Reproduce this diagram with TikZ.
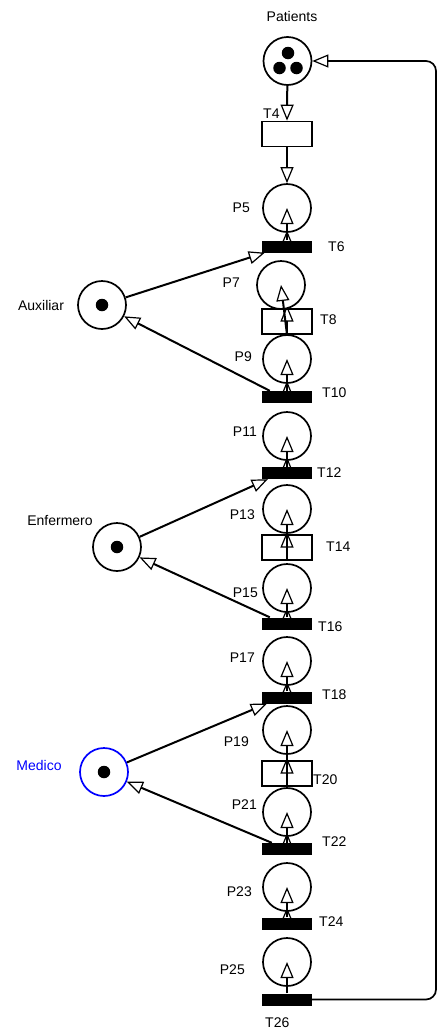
\documentclass[tikz,border=0pt]{standalone}
\usepackage{fontspec}
\setmainfont{Liberation Sans}
\usetikzlibrary{arrows.meta,positioning,calc}
\definecolor{medicoblue}{HTML}{0000FF}
\tikzset{
  place/.style={circle, draw=black, line width=1.7pt, fill=white,
    minimum size=48pt, inner sep=0pt},
  trans/.style={rectangle, draw=black, line width=1.7pt, fill=white,
    minimum width=50pt, minimum height=25pt, inner sep=0pt},
  btrans/.style={rectangle, fill=black, minimum width=50pt,
    minimum height=12pt, inner sep=0pt},
  token/.style={circle, fill=black, minimum size=12.5pt, inner sep=0pt},
  arc/.style={-{Triangle[open, length=16pt, width=13pt, line width=1.2pt]},
    line width=2pt},
  lbl/.style={font=\fontsize{14}{16}\selectfont, inner sep=0pt}
}
% stub of the arc that sits behind the place above a transition
\newcommand{\backtip}[1]{
  \draw[arc] (#1.south) -- ($(#1.center)+(0,-16)$);
}
% arc from a transition up to the centre of the place above it
\newcommand{\uparc}[2]{
  \draw[arc] (#1) -- (#2.center);
}
\begin{document}
\begin{tikzpicture}[x=1pt, y=-1pt]
\useasboundingbox (0,0) rectangle (438,1031);
% transitions
\node[trans] (T4) at (287,134) {};
\node[btrans] (T6) at (287,246.5) {};
\node[trans] (T8) at (287,321.5) {};
\node[btrans] (T10) at (287,397) {};
\node[btrans] (T12) at (287,473) {};
\node[trans] (T14) at (287,547.5) {};
\node[btrans] (T16) at (287,623.5) {};
\node[btrans] (T18) at (287,697.5) {};
\node[trans] (T20) at (287,773.5) {};
\node[btrans] (T22) at (287,849) {};
\node[btrans] (T24) at (287,923.5) {};
\node[btrans] (T26) at (287,999.5) {};
\backtip{T6}
\backtip{T8}
\backtip{T10}
\backtip{T12}
\backtip{T14}
\backtip{T16}
\backtip{T18}
\backtip{T20}
\backtip{T22}
\backtip{T24}
% places
\node[place] (pat) at (287.5,61) {};
\node[token] (pat1) at (288,53) {};
\node[token] (pat2) at (279.5,68) {};
\node[token] (pat3) at (296.5,68) {};
\node[place] (P5) at (287,208) {};
\node[place] (P7) at (281,285) {};
\node[place] (P9) at (287,359) {};
\node[place] (P11) at (287,436) {};
\node[place] (P13) at (287,509) {};
\node[place] (P15) at (287,588) {};
\node[place] (P17) at (287,661) {};
\node[place] (P19) at (287,730) {};
\node[place] (P21) at (287,812) {};
\node[place] (P23) at (287,887) {};
\node[place] (P25) at (287,962) {};
\node[place] (aux) at (102,305) {};
\node[token] (auxtok) at (aux) {};
\node[place] (enf) at (117,547) {};
\node[token] (enftok) at (enf) {};
\node[place, draw=medicoblue] (med) at (104,772) {};
\node[token] (medtok) at (med) {};
% labels
\node[lbl] (lpat) at (292,16) {Patients};
\node[lbl] (laux) at (41,305) {Auxiliar};
\node[lbl] (lenf) at (60,520) {Enfermero};
\node[lbl, text=medicoblue] (lmed) at (39,765) {Medico};
\node[lbl, anchor=east] (lP5) at (250,208) {P5};
\node[lbl, anchor=east] (lP7) at (240,283) {P7};
\node[lbl, anchor=east] (lP9) at (252,357) {P9};
\node[lbl, anchor=east] (lP11) at (257,432) {P11};
\node[lbl, anchor=east] (lP13) at (255,515) {P13};
\node[lbl, anchor=east] (lP15) at (258,593) {P15};
\node[lbl, anchor=east] (lP17) at (255,658) {P17};
\node[lbl, anchor=east] (lP19) at (249,742) {P19};
\node[lbl, anchor=east] (lP21) at (257,805) {P21};
\node[lbl, anchor=east] (lP23) at (252,892) {P23};
\node[lbl, anchor=east] (lP25) at (245,970) {P25};
\node[lbl, anchor=west] (lT4) at (263,114) {T4};
\node[lbl, anchor=west] (lT6) at (328,247) {T6};
\node[lbl, anchor=west] (lT8) at (320,320) {T8};
\node[lbl, anchor=west] (lT10) at (322,393) {T10};
\node[lbl, anchor=west] (lT12) at (317,473) {T12};
\node[lbl, anchor=west] (lT14) at (326,547) {T14};
\node[lbl, anchor=west] (lT16) at (318,627) {T16};
\node[lbl, anchor=west] (lT18) at (322,695) {T18};
\node[lbl, anchor=west] (lT20) at (313,780) {T20};
\node[lbl, anchor=west] (lT22) at (322,842) {T22};
\node[lbl, anchor=west] (lT24) at (319,922) {T24};
\node[lbl, anchor=west] (lT26) at (265,1023) {T26};
% main chain
\draw[arc] (pat) -- (T4.north);
\draw[arc] (T4.south) -- (P5.north);
\uparc{T6.north}{P5}
\uparc{T8.south}{P7}
\uparc{T10.north}{P9}
\uparc{T12.north}{P11}
\uparc{T14.south}{P13}
\uparc{T16.north}{P15}
\uparc{T18.north}{P17}
\uparc{T20.south}{P19}
\uparc{T22.north}{P21}
\uparc{T24.north}{P23}
\uparc{T26.north}{P25}
% resources
\draw[arc] (aux) -- ([xshift=3pt]T6.south west);
\draw[arc] ([xshift=8pt]T10.north west) -- (aux);
\draw[arc] (enf) -- ([xshift=6pt]T12.south west);
\draw[arc] ([xshift=8pt]T16.north west) -- (enf);
\draw[arc] (med) -- ([xshift=5pt]T18.south west);
\draw[arc] ([xshift=10pt]T22.north west) -- (med);
% back to the patients
\coordinate (loopx) at (436,0);
\draw[arc, line width=1.7pt, rounded corners=10pt]
  (T26.east) -| (loopx |- pat.east) -- (pat.east);
\end{tikzpicture}
\end{document}
